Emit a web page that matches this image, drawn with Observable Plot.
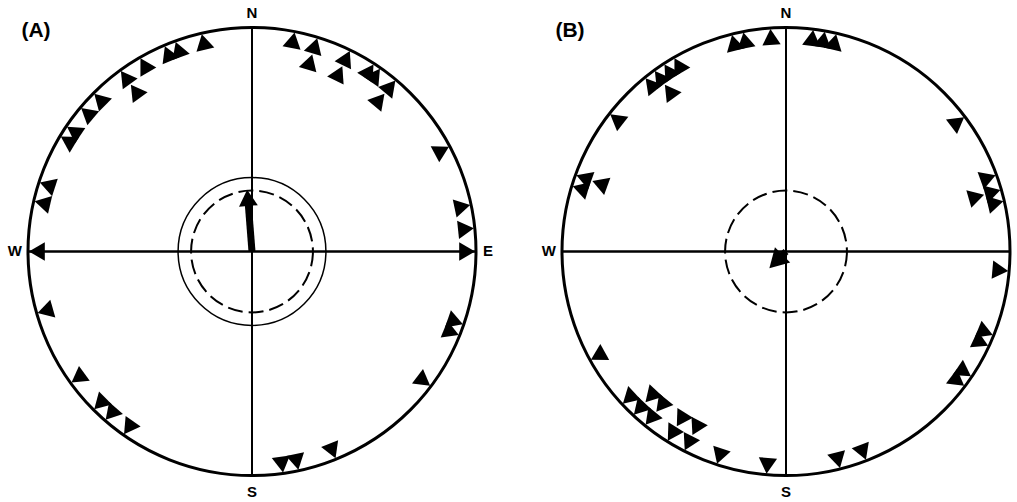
<!DOCTYPE html>
<html><head><meta charset="utf-8">
<script src="https://cdn.jsdelivr.net/npm/d3@7"></script>
<script src="https://cdn.jsdelivr.net/npm/@observablehq/plot@0.6"></script>
<style>html,body{margin:0;padding:0;background:#fff;overflow:hidden}#chart{width:1017px;height:502px}</style>
</head><body><div id="chart"></div>
<script>
// ---- data ----
const panels = ["A", "B"];
const panelLabels = ["(A)", "(B)"];
const compassLabelsA = ["N", "E", "S", "W"];
const compassLabelsB = ["N", "S", "W"];
const compassBearings = {N: 0, E: 90, S: 180, W: 270};
// individual bearings (degrees clockwise from N); repeated values are stacked inward
const anglesA = [347, 340, 337, 330, 324, 324, 315, 310, 304, 301, 288, 283, 270,
  11, 17, 17, 26, 26, 33, 35, 40, 40, 62, 78, 84, 90,
  109, 112, 127, 158, 168, 172,
  215, 221, 225, 234, 254];
const anglesB = [346, 349, 356, 7, 10, 13,
  330, 327, 324, 324, 321, 308, 290, 290, 287,
  53, 70, 74, 74, 77, 95, 112, 115, 124, 127,
  159, 166, 185, 198,
  207, 207, 212, 212, 219, 219, 223, 223, 227, 241];
// mean vectors (bearing, length as fraction of unit circle)
const meanAngle = [355.5, 225];
const meanLength = [0.277, 0.105];
// significance circles (fraction of unit radius)
const solidCircle = [0.33, null];
const dashedCircle = [0.272, 0.272];

// ---- layout ----
const W = 1017, H = 502, RPX = 224;
const centerPx = [251.5, 785.5];
const cyPx = 251;
const offsets = centerPx.map(c => (c - centerPx[0]) / RPX);
const rad = d => d * Math.PI / 180;
const TRI_R = 6.8;

function stackAngles(list, off) {
  const seen = new Map();
  return list.map(a => {
    const lvl = seen.get(a) || 0;
    seen.set(a, lvl + 1);
    const r = 1 - (11.5 + 17 * lvl) / RPX;
    return {x: off + r * Math.sin(rad(a)), y: r * Math.cos(rad(a)), a};
  });
}
const tri = [
  ...stackAngles(anglesA, offsets[0]),
  ...stackAngles(anglesB, offsets[1])
];
const pan = panels.map((p, i) => ({p, off: offsets[i], label: panelLabels[i]}));
const comp = [];
[compassLabelsA, compassLabelsB].forEach((labs, i) => labs.forEach(l => {
  const b = compassBearings[l];
  comp.push({l, x: offsets[i] + Math.sin(rad(b)), y: Math.cos(rad(b))});
}));
const circlesSolid = panels.map((p, i) => ({x: offsets[i], y: 0, r: solidCircle[i]})).filter(d => d.r != null);
const circlesDashed = panels.map((p, i) => ({x: offsets[i], y: 0, r: dashedCircle[i]}));
const headR = [7, 8];
const means = panels.map((p, i) => {
  const t = rad(meanAngle[i]), L = meanLength[i];
  const tipOff = 2 * Math.sqrt(headR[i] * headR[i] * Math.PI / (3 * Math.sqrt(3)));
  const shaftEnd = L - (tipOff + 2) / RPX, head = L - tipOff / RPX;
  return {
    x0: offsets[i], y0: 0,
    x1: offsets[i] + shaftEnd * Math.sin(t), y1: shaftEnd * Math.cos(t),
    hx: offsets[i] + head * Math.sin(t), hy: head * Math.cos(t),
    a: meanAngle[i], hr: headR[i]
  };
});

const font = "Liberation Sans, Arial, sans-serif";
const chart = Plot.plot({
  width: W, height: H,
  margin: 0,
  x: {domain: [-centerPx[0] / RPX, (W - centerPx[0]) / RPX], axis: null},
  y: {domain: [-(H - cyPx) / RPX, cyPx / RPX], axis: null},
  r: {type: "identity"},
  marks: [
    // cross lines
    Plot.link(pan, {x1: d => d.off - 1, x2: d => d.off + 1, y1: 0, y2: 0, stroke: "black", strokeWidth: 2.4}),
    Plot.link(pan, {x1: d => d.off, x2: d => d.off, y1: -1, y2: 1, stroke: "black", strokeWidth: 2}),
    // outer circle
    Plot.dot(pan, {x: d => d.off, y: () => 0, r: () => RPX, stroke: "black", strokeWidth: 3, fill: "none"}),
    // significance circles
    Plot.dot(circlesSolid, {x: "x", y: "y", r: d => d.r * RPX, stroke: "black", strokeWidth: 1.5, fill: "none"}),
    Plot.dot(circlesDashed, {x: "x", y: "y", r: d => d.r * RPX, stroke: "black", strokeWidth: 2, fill: "none", strokeDasharray: "15,6"}),
    // data triangles
    Plot.dot(tri, {x: "x", y: "y", rotate: "a", symbol: "triangle", r: () => TRI_R, fill: "black", stroke: "none"}),
    // mean vectors
    Plot.link(means, {x1: "x0", y1: "y0", x2: "x1", y2: "y1", stroke: "black", strokeWidth: 7}),
    Plot.dot(means, {x: "hx", y: "hy", rotate: "a", symbol: "triangle", r: "hr", fill: "black", stroke: "none"}),
    // compass labels
    Plot.text(comp.filter(d => d.l === "N"), {x: "x", y: "y", text: "l", dy: -14, fontSize: 15, fontWeight: "bold", fontFamily: font}),
    Plot.text(comp.filter(d => d.l === "S"), {x: "x", y: "y", text: "l", dy: 17, fontSize: 15, fontWeight: "bold", fontFamily: font}),
    Plot.text(comp.filter(d => d.l === "W"), {x: "x", y: "y", text: "l", dx: -6, textAnchor: "end", fontSize: 15, fontWeight: "bold", fontFamily: font}),
    Plot.text(comp.filter(d => d.l === "E"), {x: "x", y: "y", text: "l", dx: 7, textAnchor: "start", fontSize: 15, fontWeight: "bold", fontFamily: font}),
    // panel labels
    Plot.text(pan, {x: "off", frameAnchor: "top", dy: 22, dx: -216, text: "label", fontSize: 21, fontWeight: "bold", fontFamily: font})
  ]
});
document.getElementById("chart").append(chart);
</script>
</body></html>
